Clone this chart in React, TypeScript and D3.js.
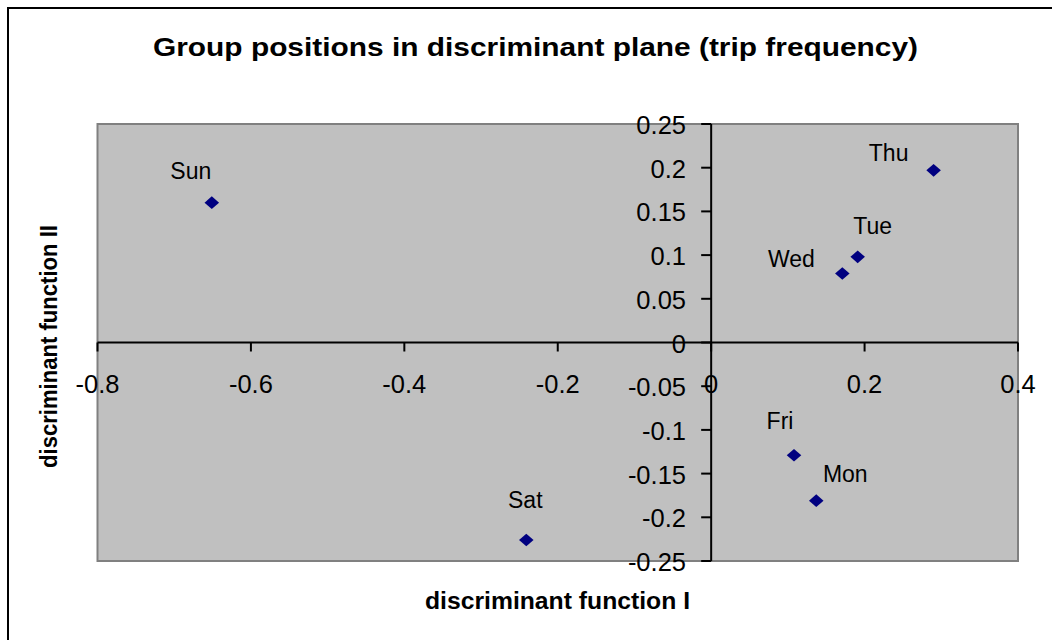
import React from "react";
import * as d3 from "d3";

const groups = ["Sun", "Sat", "Thu", "Tue", "Wed", "Fri", "Mon"];
const fn1 = [-0.651, -0.241, 0.29, 0.191, 0.171, 0.108, 0.137];
const fn2 = [0.16, -0.226, 0.197, 0.098, 0.079, -0.129, -0.181];
const xTicks = [-0.8, -0.6, -0.4, -0.2, 0, 0.2, 0.4];
const yTicks = [-0.25, -0.2, -0.15, -0.1, -0.05, 0, 0.05, 0.1, 0.15, 0.2, 0.25];
const xTickLabels = ["-0.8", "-0.6", "-0.4", "-0.2", "0", "0.2", "0.4"];
const yTickLabels = ["-0.25", "-0.2", "-0.15", "-0.1", "-0.05", "0", "0.05", "0.1", "0.15", "0.2", "0.25"];

// label offsets relative to the marker (layout only)
const labelOffsets: Record<string, [number, number]> = {
  Sun: [-21, -24],
  Sat: [-1, -32],
  Thu: [-45, -9],
  Tue: [15, -23],
  Wed: [-51, -6],
  Fri: [-14, -26],
  Mon: [29, -19],
};

const W = 1052;
const H = 640;
const left = 97.5;
const right = 1018;
const top = 124;
const bottom = 561;
const FONT = "'Liberation Sans', Arial, sans-serif";

export default function App() {
  const x = d3.scaleLinear().domain([-0.8, 0.4]).range([left, right]);
  const y = d3.scaleLinear().domain([-0.25, 0.25]).range([bottom, top]);
  const x0 = x(0);
  const y0 = y(0);
  const diamond = d3.symbol().type(d3.symbolSquare).size(80)();

  return (
    <svg
      width={W}
      height={H}
      style={{ position: "absolute", left: 0, top: 0, background: "#fff" }}
      fontFamily={FONT}
    >
      <rect x={8} y={8} width={W + 20} height={H + 20} fill="#fff" stroke="#000" strokeWidth={2} />
      <text
        x={535.5}
        y={56}
        textAnchor="middle"
        fontWeight="bold"
        fontSize={25.5}
        textLength={765}
        lengthAdjust="spacingAndGlyphs"
      >
        Group positions in discriminant plane (trip frequency)
      </text>
      <rect
        x={left}
        y={top}
        width={right - left}
        height={bottom - top}
        fill="#C0C0C0"
        stroke="#808080"
        strokeWidth={2}
      />
      {/* x axis */}
      <line x1={left} x2={right} y1={y0} y2={y0} stroke="#000" strokeWidth={2} />
      {xTicks.map((t, i) => (
        <g key={"xt" + i}>
          <line x1={x(t)} x2={x(t)} y1={y0} y2={y0 + 9} stroke="#000" strokeWidth={2} />
          <text x={x(t)} y={y0 + 50} textAnchor="middle" fontSize={25.5}>
            {xTickLabels[i]}
          </text>
        </g>
      ))}
      {/* y axis */}
      <line x1={x0} x2={x0} y1={top} y2={bottom} stroke="#000" strokeWidth={2} />
      {yTicks.map((t, i) => (
        <g key={"yt" + i}>
          <line x1={x0 - 10} x2={x0} y1={y(t)} y2={y(t)} stroke="#000" strokeWidth={2} />
          <text x={686} y={y(t) + 10} textAnchor="end" fontSize={25.5}>
            {yTickLabels[i]}
          </text>
        </g>
      ))}
      {/* points */}
      {groups.map((g, i) => {
        const px = x(fn1[i]);
        const py = y(fn2[i]);
        const [dx, dy] = labelOffsets[g];
        return (
          <g key={g}>
            <path
              d={diamond || ""}
              transform={`translate(${px},${py}) scale(1.15,1) rotate(45)`}
              fill="#000080"
            />
            <text x={px + dx} y={py + dy} textAnchor="middle" fontSize={23}>
              {g}
            </text>
          </g>
        );
      })}
      {/* axis titles */}
      <text
        x={557.5}
        y={609}
        textAnchor="middle"
        fontWeight="bold"
        fontSize={23}
        textLength={265}
        lengthAdjust="spacingAndGlyphs"
      >
        discriminant function I
      </text>
      <text
        transform={`translate(56.5,346.5) rotate(-90)`}
        textAnchor="middle"
        fontWeight="bold"
        fontSize={23}
        textLength={243}
        lengthAdjust="spacingAndGlyphs"
      >
        discriminant function II
      </text>
    </svg>
  );
}
